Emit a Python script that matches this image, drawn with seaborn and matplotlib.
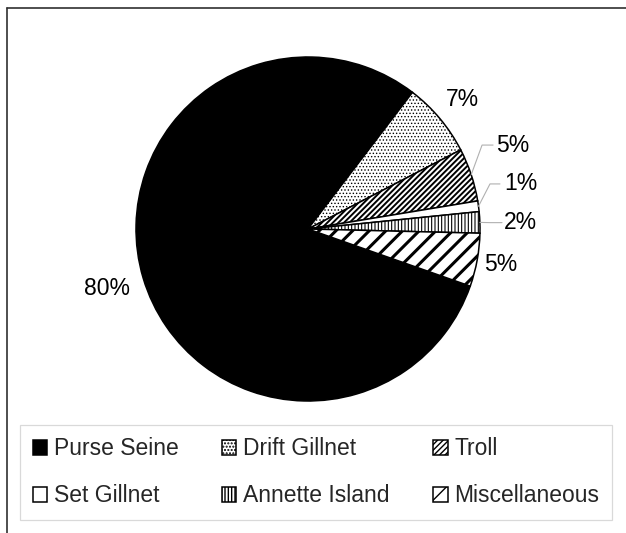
import numpy as np
import matplotlib
matplotlib.use("Agg")
import matplotlib.pyplot as plt
from matplotlib.lines import Line2D
import seaborn as sns

# ---- data ----
categories = ["Purse Seine", "Drift Gillnet", "Troll", "Set Gillnet", "Annette Island", "Miscellaneous"]
shares = [80, 7, 5, 1, 2, 5]
label_texts = [f"{v}%" for v in shares]

# ---- styles ----
face_colors = ["black", "white", "white", "white", "white", "white"]
hatches = [None, ".....", "//////", None, "|||||", "//"]
hatch_lws = [1.0, 0.6, 1.4, 1.0, 0.8, 2.2]

sns.set_theme(style="white")
plt.rcParams["font.family"] = ["Liberation Sans", "DejaVu Sans"]
plt.rcParams["hatch.color"] = "black"

W, H = 626, 533
fig = plt.figure(figsize=(W / 100, H / 100), dpi=100)
fig.patch.set_facecolor("white")

cx, cy, R = 308, 229, 172  # pixel centre/radius of pie
ax = fig.add_axes([(cx - R) / W, (H - cy - R) / H, 2 * R / W, 2 * R / H])

wedges, _ = ax.pie(shares, colors=face_colors, startangle=-19.4, counterclock=False,
                   radius=1.0, labels=None,
                   wedgeprops=dict(edgecolor="black", linewidth=1.1))
for w, h, hl in zip(wedges, hatches, hatch_lws):
    if h:
        w.set_hatch(h)
    if hasattr(w, "set_hatch_linewidth"):
        w.set_hatch_linewidth(hl)
ax.set_xlim(-1, 1)
ax.set_ylim(-1, 1)
ax.axis("off")

def mid_angle(w):
    return np.deg2rad((w.theta1 + w.theta2) / 2)

fs = 16.5
# labels placed radially (Purse Seine, Drift Gillnet, Miscellaneous)
radial = {0: 1.22, 1: 1.17, 5: 1.14}
for i, r in radial.items():
    a = mid_angle(wedges[i])
    ax.text(r * np.cos(a), r * np.sin(a), label_texts[i], ha="center", va="center",
            fontsize=fs, color="black")

# labels with leader lines (Troll, Set Gillnet, Annette Island)
leader = {
    2: dict(text=(1.093, 0.488), elbow=(1.012, 0.488), end=(1.076, 0.488)),
    3: dict(text=(1.14, 0.262), elbow=(1.058, 0.262), end=(1.116, 0.262)),
    4: dict(text=(1.14, 0.037), elbow=(1.06, 0.037), end=(1.128, 0.037)),
}
for i, d in leader.items():
    a = mid_angle(wedges[i])
    p0 = (np.cos(a), np.sin(a))
    ax.plot([p0[0], d["elbow"][0], d["end"][0]], [p0[1], d["elbow"][1], d["end"][1]],
            color="#b0b0b0", lw=0.8, clip_on=False)
    ax.text(d["text"][0], d["text"][1], label_texts[i], ha="left", va="center",
            fontsize=fs, color="black")

# legend: row-wise order (matplotlib fills columns first)
order = [0, 3, 1, 4, 2, 5]
leg = fig.legend([wedges[i] for i in order], [categories[i] for i in order],
                 loc="lower left", ncol=3, mode="expand",
                 bbox_to_anchor=(20 / W, 13 / H, 592 / W, 92 / H), bbox_transform=fig.transFigure,
                 fontsize=fs, handlelength=0.62, handleheight=0.62, handletextpad=0.3,
                 columnspacing=1.5, labelspacing=1.05, borderpad=0.55, borderaxespad=0,
                 frameon=True, fancybox=False, framealpha=1, edgecolor="#d9d9d9")
leg.get_frame().set_linewidth(0.9)
for hnd in leg.legend_handles:
    hnd.set_edgecolor("black")

# outer chart border (top and left edges visible)
fig.add_artist(Line2D([6.5 / W, 1.0], [1 - 7.5 / H, 1 - 7.5 / H], transform=fig.transFigure,
                      color="#303030", lw=1.2))
fig.add_artist(Line2D([6.5 / W, 6.5 / W], [0.0, 1 - 7.5 / H], transform=fig.transFigure,
                      color="#303030", lw=1.2))

fig.savefig("out.png", dpi=100, facecolor="white")
